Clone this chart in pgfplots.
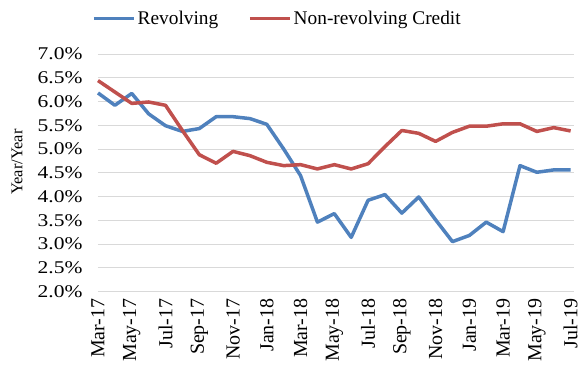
\documentclass[border=0pt]{standalone}
\usepackage{pgfplots}
\pgfplotsset{compat=1.18}
\usepackage{fontspec}
\setmainfont{Liberation Serif}
\newfontfamily\ytfont[FakeStretch=1.2]{Liberation Serif}
\definecolor{revblue}{RGB}{79,129,189}
\definecolor{nonred}{RGB}{192,80,77}
\definecolor{gridgray}{RGB}{217,217,217}
\begin{document}
\begin{tikzpicture}
\path[use as bounding box] (-98bp,-75bp) rectangle (485bp,291.5bp);
\begin{axis}[
  at={(0,0)}, anchor=south west,
  scale only axis,
  width=476bp, height=237.5bp,
  xmin=0, xmax=28.2, ymin=2, ymax=7,
  axis line style={draw=none},
  major tick length=0pt,
  ymajorgrids, grid style={gridgray, line width=1bp},
  ytick={2,2.5,...,7},
  /pgf/number format/assume math mode=true,
  yticklabel={\pgfmathprintnumber[fixed,fixed zerofill,precision=1]{\tick}\%},
  yticklabel style={font=\ytfont\fontsize{18}{20}\selectfont, xshift=-12bp},
  xtick={0,2,...,28},
  xticklabels={Mar-17,May-17,Jul-17,Sep-17,Nov-17,Jan-18,Mar-18,May-18,Jul-18,Sep-18,Nov-18,Jan-19,Mar-19,May-19,Jul-19},
  xticklabel style={font=\fontsize{20}{22}\selectfont, yshift=-3.5bp, rotate=90, anchor=east},
  ylabel={Year/Year},
  ylabel style={font=\fontsize{16.5}{18}\selectfont, at={(rel axis cs:-0.170,0.545)}, anchor=center},
  legend columns=-1,
  legend style={draw=none, fill=none, at={(rel axis cs:0.377,1.149)}, anchor=center,
    font=\fontsize{19.4}{21}\selectfont, /tikz/every even column/.append style={column sep=28bp}},
  legend image code/.code={\draw[#1, line width=3.5bp] (0bp,0bp) -- (40bp,0bp);},
  clip=false,
]
\addplot[revblue, line width=3.5bp, line join=round] table[x=i, y=v] {
i v
0 6.18
1 5.92
2 6.17
3 5.74
4 5.49
5 5.37
6 5.43
7 5.68
8 5.68
9 5.64
10 5.52
11 5.00
12 4.44
13 3.46
14 3.64
15 3.14
16 3.92
17 4.04
18 3.65
19 3.99
20 3.51
21 3.05
22 3.18
23 3.46
24 3.26
25 4.65
26 4.51
27 4.56
28 4.56
};
\addlegendentry{Revolving}
\addplot[nonred, line width=3.5bp, line join=round] table[x=i, y=v] {
i v
0 6.44
1 6.20
2 5.96
3 5.99
4 5.92
5 5.39
6 4.88
7 4.70
8 4.95
9 4.86
10 4.72
11 4.65
12 4.67
13 4.58
14 4.67
15 4.58
16 4.69
17 5.05
18 5.39
19 5.33
20 5.16
21 5.35
22 5.48
23 5.48
24 5.53
25 5.53
26 5.37
27 5.45
28 5.38
};
\addlegendentry{Non-revolving Credit}
\end{axis}
\end{tikzpicture}
\end{document}
